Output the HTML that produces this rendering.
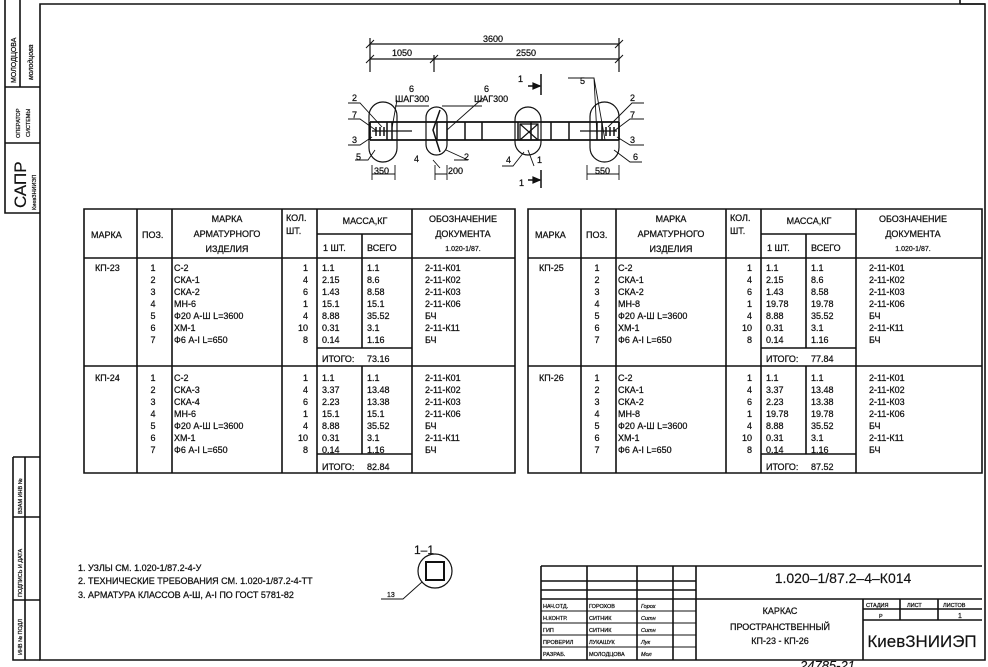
<!DOCTYPE html>
<html><head><meta charset="utf-8"><style>
html,body{margin:0;padding:0;background:#fff}
svg{display:block}
text{font-family:"Liberation Sans",sans-serif;font-size:9px;fill:#111;stroke:#111;stroke-width:0.25}
.s{font-size:7px}.xs{font-size:5.5px}
.big{stroke-width:0.15}
</style></head><body>
<svg width="988" height="667" viewBox="0 0 988 667" xmlns="http://www.w3.org/2000/svg">
<g stroke="#111" fill="none" stroke-width="1.6">
<path d="M40 4 H985 V660 H40 Z"/>
<path d="M960 4 V0 M960 4 H985"/>
<path d="M5 0 V213 H40 M5 87 H40 M5 143 H40 M20 0 V87"/>
<path d="M13 457 V660 H40 M13 457 H40 M13 517 H40 M13 600 H40 M25 457 V660"/>
<path d="M84 209 H515 V473 H84 Z M137 209 V473 M172 209 V473 M282 209 V473 M317 209 V473 M412 209 V473 M84 258 H515 M317 234 H412 M362 234 V348 M84 366 H515 M317 348 H412 M362 366 V454 M317 454 H412"/>
<path d="M528 209 H982 V473 H528 Z M581 209 V473 M616 209 V473 M726 209 V473 M761 209 V473 M856 209 V473 M528 258 H982 M761 234 H856 M806 234 V348 M528 366 H982 M761 348 H856 M806 366 V454 M761 454 H856"/>
<path d="M541 566 H982 M541 566 V660 M587 566 V660 M637 566 V660 M673 566 V660 M696 566 V660 M541 581 H696 M541 590 H696 M541 599 H982 M863 599 V660 M900 599 V620 M938 599 V620 M863 609 H982 M863 620 H982"/>
<path d="M541 611 H696 M541 623 H696 M541 635 H696 M541 647 H696" stroke-width="1"/>
</g>
<g>
<text transform="translate(16,83) rotate(-90)" class="s">МОЛОДЦОВА</text>
<text transform="translate(33,80) rotate(-90)" class="s" font-style="italic">молодцова</text>
<text transform="translate(20,138) rotate(-90)" class="xs">ОПЕРАТОР</text>
<text transform="translate(30,137) rotate(-90)" class="xs">СИСТЕМЫ</text>
<text transform="translate(26,208) rotate(-90)" class="big" style="font-size:17px">САПР</text>
<text transform="translate(36,210) rotate(-90)" class="xs">КиевЗНИИЭП</text>
<text transform="translate(22,514) rotate(-90)" class="xs">ВЗАМ ИНВ №</text>
<text transform="translate(22,597) rotate(-90)" class="xs">ПОДПИСЬ И ДАТА</text>
<text transform="translate(22,655) rotate(-90)" class="xs">ИНВ № ПОДЛ</text>
</g>
<g stroke="#111" fill="none" stroke-width="1.2">
<path d="M370 44 H619 M370 59 H619 M370 38 V72 M434 55 V72 M619 38 V72"/>
<path d="M366 48 L374 40 M615 48 L623 40 M366 63 L374 55 M430 63 L438 55 M615 63 L623 55" stroke-width="1"/>
<path d="M370 122 H619 M370 140 H619 M370 122 V140 M619 122 V140" stroke-width="1.8"/>
<path d="M372 131 H412 M580 131 H617"/>
<path d="M465 122 V140 M482 122 V140 M551 122 V140 M569 122 V140 M387 122 V140 M392 122 V140 M597 122 V140 M602 122 V140 M437 122 V140 M447 122 V140 M518 122 V140 M531 122 V140 M384 127 V136 M380 127 V136 M376 127 V136 M606 127 V136 M610 127 V136 M614 127 V136" stroke-width="1.5"/>
<path d="M520 124 L538 140 M538 124 L520 140 M520 124 H538 V140 H520 Z"/>
<path d="M440 110 L433 130 L440 152" stroke-width="1.5"/>
<rect x="369" y="102" width="28" height="60" rx="14"/>
<rect x="426" y="107" width="21" height="48" rx="10.5"/>
<rect x="515" y="107" width="26" height="48" rx="13"/>
<rect x="590" y="102" width="29" height="60" rx="14.5"/>
<path d="M348 103 H360 L382 127 M348 119 H360 L377 131 M348 145 H360 L372 137 M355 160 H368 L375 150 M395 106 H429 M397 100 L392 128 M442 106 H482 M483 98 L447 130 M440 168 L433 160 M454 160 H468 L446 150 M502 166 H513 L524 152 M534 166 L528 150 M568 78 H594 L597 136 M594 78 L605 140 M644 103 H632 L608 127 M644 119 H630 L614 131 M644 145 H630 L617 137 M642 162 H630 L614 150" stroke-width="0.9"/>
<path d="M372 165 V180 M395 165 V180 M435 165 V180 M447 165 V180 M587 165 V180 M619 165 V180 M372 174 H395 M435 174 H447 M587 174 H619" stroke-width="0.9"/>
<path d="M541 74 V95 M541 170 V188 M528 86 H540 M528 180 H540" stroke-width="1.5"/>
<path d="M533 83 L540 86 L533 89 Z M533 177 L540 180 L533 183 Z" fill="#111"/>
<circle cx="435" cy="571" r="17"/>
<rect x="426" y="562" width="18" height="18" stroke-width="2"/>
<path d="M381 599 H403 L422 582" stroke-width="0.9"/>
</g>
<g>
<text x="483" y="42">3600</text>
<text x="392" y="56">1050</text>
<text x="516" y="56">2550</text>
<text x="409" y="92">6</text><text x="395" y="102">ШАГ300</text>
<text x="484" y="92">6</text><text x="474" y="102">ШАГ300</text>
<text x="352" y="101">2</text><text x="352" y="118">7</text><text x="352" y="143">3</text><text x="356" y="160">5</text>
<text x="414" y="162">4</text><text x="464" y="160">2</text><text x="506" y="163">4</text><text x="537" y="163">1</text>
<text x="518" y="82">1</text><text x="519" y="186">1</text><text x="580" y="84">5</text>
<text x="630" y="101">2</text><text x="630" y="118">7</text><text x="630" y="143">3</text><text x="633" y="160">6</text>
<text x="374" y="174">350</text><text x="448" y="174">200</text><text x="595" y="174">550</text>
<text x="414" y="554" class="big" style="font-size:12px">1–1</text>
<text x="387" y="597" class="s">13</text>
<text x="78" y="571">1. УЗЛЫ СМ. 1.020-1/87.2-4-У</text>
<text x="78" y="584">2. ТЕХНИЧЕСКИЕ ТРЕБОВАНИЯ СМ. 1.020-1/87.2-4-ТТ</text>
<text x="78" y="598">3. АРМАТУРА КЛАССОВ А-Ш, А-I ПО ГОСТ 5781-82</text>
</g>
<g>
<text x="91" y="238">МАРКА</text><text x="142" y="238">ПОЗ.</text>
<text x="227" y="222" text-anchor="middle">МАРКА</text><text x="227" y="237" text-anchor="middle">АРМАТУРНОГО</text><text x="227" y="252" text-anchor="middle">ИЗДЕЛИЯ</text>
<text x="286" y="221">КОЛ.</text><text x="286" y="234">ШТ.</text>
<text x="365" y="224" text-anchor="middle">МАССА,КГ</text><text x="323" y="251">1 ШТ.</text><text x="367" y="251">ВСЕГО</text>
<text x="463" y="222" text-anchor="middle">ОБОЗНАЧЕНИЕ</text><text x="463" y="237" text-anchor="middle">ДОКУМЕНТА</text><text x="463" y="251" text-anchor="middle" class="s">1.020-1/87.</text>
<text x="95" y="271">КП-23</text>
<text x="153" y="271" text-anchor="middle">1</text><text x="153" y="283" text-anchor="middle">2</text><text x="153" y="295" text-anchor="middle">3</text><text x="153" y="307" text-anchor="middle">4</text><text x="153" y="319" text-anchor="middle">5</text><text x="153" y="331" text-anchor="middle">6</text><text x="153" y="343" text-anchor="middle">7</text>
<text x="174" y="271">С-2</text><text x="174" y="283">СКА-1</text><text x="174" y="295">СКА-2</text><text x="174" y="307">МН-6</text><text x="174" y="319">Ф20 А-Ш L=3600</text><text x="174" y="331">ХМ-1</text><text x="174" y="343">Ф6 А-I L=650</text>
<text x="308" y="271" text-anchor="end">1</text><text x="308" y="283" text-anchor="end">4</text><text x="308" y="295" text-anchor="end">6</text><text x="308" y="307" text-anchor="end">1</text><text x="308" y="319" text-anchor="end">4</text><text x="308" y="331" text-anchor="end">10</text><text x="308" y="343" text-anchor="end">8</text>
<text x="322" y="271">1.1</text><text x="322" y="283">2.15</text><text x="322" y="295">1.43</text><text x="322" y="307">15.1</text><text x="322" y="319">8.88</text><text x="322" y="331">0.31</text><text x="322" y="343">0.14</text>
<text x="367" y="271">1.1</text><text x="367" y="283">8.6</text><text x="367" y="295">8.58</text><text x="367" y="307">15.1</text><text x="367" y="319">35.52</text><text x="367" y="331">3.1</text><text x="367" y="343">1.16</text>
<text x="322" y="362">ИТОГО:</text><text x="367" y="362">73.16</text>
<text x="425" y="271">2-11-К01</text><text x="425" y="283">2-11-К02</text><text x="425" y="295">2-11-К03</text><text x="425" y="307">2-11-К06</text><text x="425" y="319">БЧ</text><text x="425" y="331">2-11-К11</text><text x="425" y="343">БЧ</text>
<text x="95" y="381">КП-24</text>
<text x="153" y="381" text-anchor="middle">1</text><text x="153" y="393" text-anchor="middle">2</text><text x="153" y="405" text-anchor="middle">3</text><text x="153" y="417" text-anchor="middle">4</text><text x="153" y="429" text-anchor="middle">5</text><text x="153" y="441" text-anchor="middle">6</text><text x="153" y="453" text-anchor="middle">7</text>
<text x="174" y="381">С-2</text><text x="174" y="393">СКА-3</text><text x="174" y="405">СКА-4</text><text x="174" y="417">МН-6</text><text x="174" y="429">Ф20 А-Ш L=3600</text><text x="174" y="441">ХМ-1</text><text x="174" y="453">Ф6 А-I L=650</text>
<text x="308" y="381" text-anchor="end">1</text><text x="308" y="393" text-anchor="end">4</text><text x="308" y="405" text-anchor="end">6</text><text x="308" y="417" text-anchor="end">1</text><text x="308" y="429" text-anchor="end">4</text><text x="308" y="441" text-anchor="end">10</text><text x="308" y="453" text-anchor="end">8</text>
<text x="322" y="381">1.1</text><text x="322" y="393">3.37</text><text x="322" y="405">2.23</text><text x="322" y="417">15.1</text><text x="322" y="429">8.88</text><text x="322" y="441">0.31</text><text x="322" y="453">0.14</text>
<text x="367" y="381">1.1</text><text x="367" y="393">13.48</text><text x="367" y="405">13.38</text><text x="367" y="417">15.1</text><text x="367" y="429">35.52</text><text x="367" y="441">3.1</text><text x="367" y="453">1.16</text>
<text x="322" y="470">ИТОГО:</text><text x="367" y="470">82.84</text>
<text x="425" y="381">2-11-К01</text><text x="425" y="393">2-11-К02</text><text x="425" y="405">2-11-К03</text><text x="425" y="417">2-11-К06</text><text x="425" y="429">БЧ</text><text x="425" y="441">2-11-К11</text><text x="425" y="453">БЧ</text>
</g>
<g transform="translate(444,0)">
<text x="91" y="238">МАРКА</text><text x="142" y="238">ПОЗ.</text>
<text x="227" y="222" text-anchor="middle">МАРКА</text><text x="227" y="237" text-anchor="middle">АРМАТУРНОГО</text><text x="227" y="252" text-anchor="middle">ИЗДЕЛИЯ</text>
<text x="286" y="221">КОЛ.</text><text x="286" y="234">ШТ.</text>
<text x="365" y="224" text-anchor="middle">МАССА,КГ</text><text x="323" y="251">1 ШТ.</text><text x="367" y="251">ВСЕГО</text>
<text x="469" y="222" text-anchor="middle">ОБОЗНАЧЕНИЕ</text><text x="469" y="237" text-anchor="middle">ДОКУМЕНТА</text><text x="469" y="251" text-anchor="middle" class="s">1.020-1/87.</text>
<text x="95" y="271">КП-25</text>
<text x="153" y="271" text-anchor="middle">1</text><text x="153" y="283" text-anchor="middle">2</text><text x="153" y="295" text-anchor="middle">3</text><text x="153" y="307" text-anchor="middle">4</text><text x="153" y="319" text-anchor="middle">5</text><text x="153" y="331" text-anchor="middle">6</text><text x="153" y="343" text-anchor="middle">7</text>
<text x="174" y="271">С-2</text><text x="174" y="283">СКА-1</text><text x="174" y="295">СКА-2</text><text x="174" y="307">МН-8</text><text x="174" y="319">Ф20 А-Ш L=3600</text><text x="174" y="331">ХМ-1</text><text x="174" y="343">Ф6 А-I L=650</text>
<text x="308" y="271" text-anchor="end">1</text><text x="308" y="283" text-anchor="end">4</text><text x="308" y="295" text-anchor="end">6</text><text x="308" y="307" text-anchor="end">1</text><text x="308" y="319" text-anchor="end">4</text><text x="308" y="331" text-anchor="end">10</text><text x="308" y="343" text-anchor="end">8</text>
<text x="322" y="271">1.1</text><text x="322" y="283">2.15</text><text x="322" y="295">1.43</text><text x="322" y="307">19.78</text><text x="322" y="319">8.88</text><text x="322" y="331">0.31</text><text x="322" y="343">0.14</text>
<text x="367" y="271">1.1</text><text x="367" y="283">8.6</text><text x="367" y="295">8.58</text><text x="367" y="307">19.78</text><text x="367" y="319">35.52</text><text x="367" y="331">3.1</text><text x="367" y="343">1.16</text>
<text x="322" y="362">ИТОГО:</text><text x="367" y="362">77.84</text>
<text x="425" y="271">2-11-К01</text><text x="425" y="283">2-11-К02</text><text x="425" y="295">2-11-К03</text><text x="425" y="307">2-11-К06</text><text x="425" y="319">БЧ</text><text x="425" y="331">2-11-К11</text><text x="425" y="343">БЧ</text>
<text x="95" y="381">КП-26</text>
<text x="153" y="381" text-anchor="middle">1</text><text x="153" y="393" text-anchor="middle">2</text><text x="153" y="405" text-anchor="middle">3</text><text x="153" y="417" text-anchor="middle">4</text><text x="153" y="429" text-anchor="middle">5</text><text x="153" y="441" text-anchor="middle">6</text><text x="153" y="453" text-anchor="middle">7</text>
<text x="174" y="381">С-2</text><text x="174" y="393">СКА-1</text><text x="174" y="405">СКА-2</text><text x="174" y="417">МН-8</text><text x="174" y="429">Ф20 А-Ш L=3600</text><text x="174" y="441">ХМ-1</text><text x="174" y="453">Ф6 А-I L=650</text>
<text x="308" y="381" text-anchor="end">1</text><text x="308" y="393" text-anchor="end">4</text><text x="308" y="405" text-anchor="end">6</text><text x="308" y="417" text-anchor="end">1</text><text x="308" y="429" text-anchor="end">4</text><text x="308" y="441" text-anchor="end">10</text><text x="308" y="453" text-anchor="end">8</text>
<text x="322" y="381">1.1</text><text x="322" y="393">3.37</text><text x="322" y="405">2.23</text><text x="322" y="417">19.78</text><text x="322" y="429">8.88</text><text x="322" y="441">0.31</text><text x="322" y="453">0.14</text>
<text x="367" y="381">1.1</text><text x="367" y="393">13.48</text><text x="367" y="405">13.38</text><text x="367" y="417">19.78</text><text x="367" y="429">35.52</text><text x="367" y="441">3.1</text><text x="367" y="453">1.16</text>
<text x="322" y="470">ИТОГО:</text><text x="367" y="470">87.52</text>
<text x="425" y="381">2-11-К01</text><text x="425" y="393">2-11-К02</text><text x="425" y="405">2-11-К03</text><text x="425" y="417">2-11-К06</text><text x="425" y="429">БЧ</text><text x="425" y="441">2-11-К11</text><text x="425" y="453">БЧ</text>
</g>
<g>
<text x="543" y="608" class="xs">НАЧ.ОТД.</text><text x="589" y="608" class="xs">ГОРОХОВ</text>
<text x="543" y="620" class="xs">Н.КОНТР.</text><text x="589" y="620" class="xs">СИТНИК</text>
<text x="543" y="632" class="xs">ГИП</text><text x="589" y="632" class="xs">СИТНИК</text>
<text x="543" y="644" class="xs">ПРОВЕРИЛ</text><text x="589" y="644" class="xs">ЛУКАШУК</text>
<text x="543" y="656" class="xs">РАЗРАБ.</text><text x="589" y="656" class="xs">МОЛОДЦОВА</text>
<text x="641" y="608" class="xs" font-style="italic">Горох</text><text x="641" y="620" class="xs" font-style="italic">Ситн</text><text x="641" y="632" class="xs" font-style="italic">Ситн</text><text x="641" y="644" class="xs" font-style="italic">Лук</text><text x="641" y="656" class="xs" font-style="italic">Мол</text>
<text x="843" y="583" text-anchor="middle" class="big" style="font-size:14px">1.020–1/87.2–4–К014</text>
<text x="780" y="614" text-anchor="middle">КАРКАС</text>
<text x="780" y="630" text-anchor="middle">ПРОСТРАНСТВЕННЫЙ</text>
<text x="780" y="644" text-anchor="middle">КП-23 - КП-26</text>
<text x="866" y="607" class="xs">СТАДИЯ</text><text x="907" y="607" class="xs">ЛИСТ</text><text x="943" y="607" class="xs">ЛИСТОВ</text>
<text x="879" y="618" class="xs">Р</text><text x="958" y="618" class="s">1</text>
<text x="922" y="647" text-anchor="middle" class="big" style="font-size:17px">КиевЗНИИЭП</text>
<text x="800" y="670" class="big" style="font-size:13px;font-style:italic">24785-21</text>
</g>
</svg>
</body></html>
